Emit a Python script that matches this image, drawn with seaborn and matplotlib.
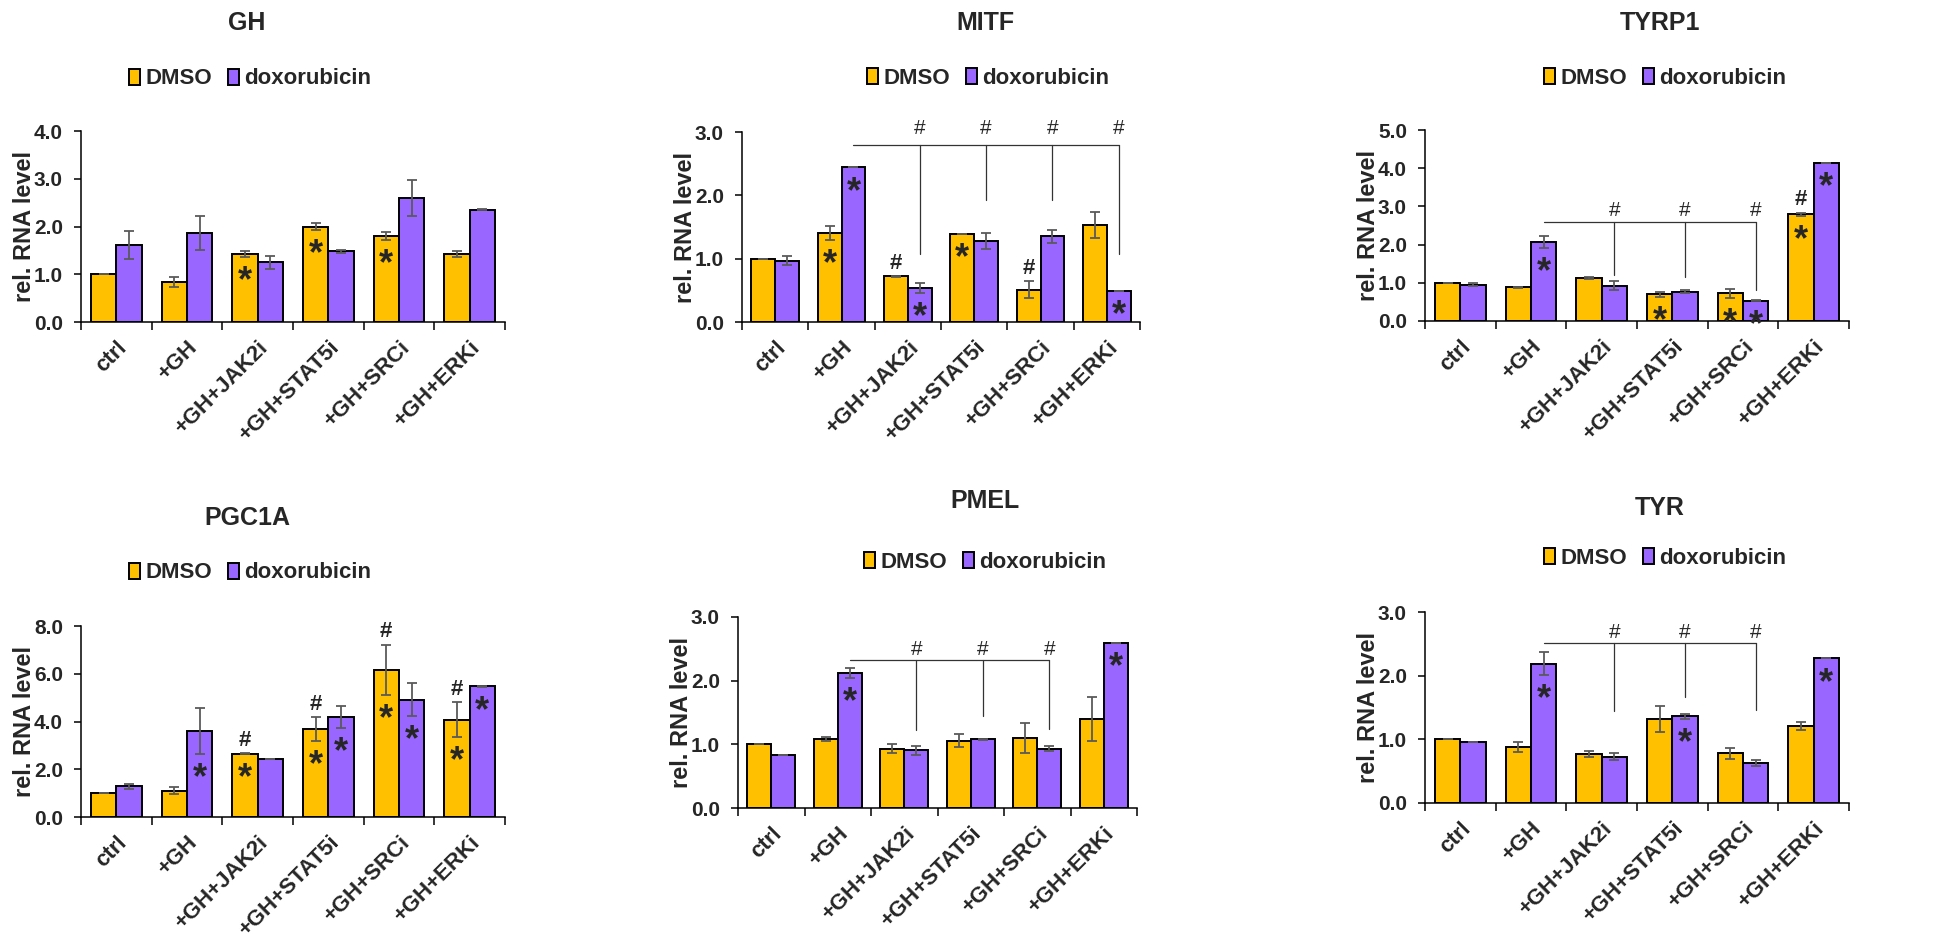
import numpy as np
import pandas as pd
import seaborn as sns
from matplotlib import pyplot as plt
from matplotlib.patches import Patch
from matplotlib.ticker import FormatStrFormatter

# Categorias e condições
tratamentos = ['ctrl', '+GH', '+GH+JAK2i', '+GH+STAT5i', '+GH+SRCi', '+GH+ERKi']
condicoes = ['DMSO', 'doxorubicin']
cores = {'DMSO': '#FFC000', 'doxorubicin': '#9966FF'}

# GH
gh_dmso = [1.00, 0.84, 1.43, 2.00, 1.80, 1.42]
gh_dmso_err = [0.00, 0.10, 0.06, 0.08, 0.08, 0.06]
gh_doxo = [1.61, 1.86, 1.25, 1.48, 2.60, 2.35]
gh_doxo_err = [0.30, 0.35, 0.14, 0.03, 0.37, 0.01]
gh_star_dmso = [0, 0, 1, 1, 1, 0]
gh_star_doxo = [0, 0, 0, 0, 0, 0]
gh_hash_dmso = [0, 0, 0, 0, 0, 0]

# MITF
mitf_dmso = [1.00, 1.41, 0.72, 1.39, 0.51, 1.53]
mitf_dmso_err = [0.00, 0.11, 0.01, 0.00, 0.13, 0.20]
mitf_doxo = [0.97, 2.44, 0.54, 1.28, 1.35, 0.49]
mitf_doxo_err = [0.07, 0.00, 0.08, 0.12, 0.10, 0.00]
mitf_star_dmso = [0, 1, 0, 1, 0, 0]
mitf_star_doxo = [0, 1, 1, 0, 0, 1]
mitf_hash_dmso = [0, 0, 1, 0, 1, 0]
mitf_chave_y = 2.80
mitf_chave_alvos = [2, 3, 4, 5]
mitf_chave_fim = [1.07, 1.93, 1.92, 1.07]
mitf_chave_hash = 3.08

# TYRP1
tyrp1_dmso = [1.00, 0.88, 1.13, 0.70, 0.72, 2.79]
tyrp1_dmso_err = [0.00, 0.02, 0.02, 0.06, 0.13, 0.05]
tyrp1_doxo = [0.95, 2.07, 0.92, 0.77, 0.53, 4.13]
tyrp1_doxo_err = [0.04, 0.16, 0.12, 0.05, 0.01, 0.00]
tyrp1_star_dmso = [0, 0, 0, 1, 1, 1]
tyrp1_star_doxo = [0, 1, 0, 0, 1, 1]
tyrp1_hash_dmso = [0, 0, 0, 0, 0, 1]
tyrp1_chave_y = 2.59
tyrp1_chave_alvos = [2, 3, 4]
tyrp1_chave_fim = [1.20, 1.16, 0.81]
tyrp1_chave_hash = 2.95

# PGC1A
pgc1a_dmso = [1.00, 1.10, 2.65, 3.68, 6.17, 4.08]
pgc1a_dmso_err = [0.00, 0.14, 0.02, 0.50, 1.05, 0.73]
pgc1a_doxo = [1.28, 3.60, 2.42, 4.18, 4.92, 5.48]
pgc1a_doxo_err = [0.12, 0.97, 0.01, 0.45, 0.68, 0.02]
pgc1a_star_dmso = [0, 0, 1, 1, 1, 1]
pgc1a_star_doxo = [0, 1, 0, 1, 1, 1]
pgc1a_hash_dmso = [0, 0, 1, 1, 1, 1]

# PMEL
pmel_dmso = [1.00, 1.09, 0.93, 1.06, 1.10, 1.40]
pmel_dmso_err = [0.00, 0.03, 0.07, 0.10, 0.23, 0.34]
pmel_doxo = [0.84, 2.12, 0.91, 1.08, 0.93, 2.59]
pmel_doxo_err = [0.00, 0.08, 0.07, 0.01, 0.04, 0.00]
pmel_star_dmso = [0, 0, 0, 0, 0, 0]
pmel_star_doxo = [0, 1, 0, 0, 0, 1]
pmel_hash_dmso = [0, 0, 0, 0, 0, 0]
pmel_chave_y = 2.32
pmel_chave_alvos = [2, 3, 4]
pmel_chave_fim = [1.23, 1.44, 1.24]
pmel_chave_hash = 2.51

# TYR
tyr_dmso = [1.00, 0.88, 0.77, 1.32, 0.78, 1.21]
tyr_dmso_err = [0.00, 0.08, 0.05, 0.20, 0.09, 0.07]
tyr_doxo = [0.96, 2.19, 0.73, 1.36, 0.63, 2.27]
tyr_doxo_err = [0.00, 0.18, 0.05, 0.04, 0.05, 0.00]
tyr_star_dmso = [0, 0, 0, 0, 0, 0]
tyr_star_doxo = [0, 1, 0, 1, 0, 1]
tyr_hash_dmso = [0, 0, 0, 0, 0, 0]
tyr_chave_y = 2.52
tyr_chave_alvos = [2, 3, 4]
tyr_chave_fim = [1.45, 1.66, 1.46]
tyr_chave_hash = 2.70

W, H = 1959, 946
fonte = ['Liberation Sans', 'DejaVu Sans']

sns.set_style('ticks')
plt.rcParams['font.family'] = fonte
plt.rcParams['axes.linewidth'] = 1.1

fig = plt.figure(figsize=(W / 100, H / 100), dpi=100)


def px(pt):
    # converte pontos para pixels (dpi 100)
    return pt * 100 / 72


def plot_gene(caixa, titulo, titulo_pos, legenda_pos, dmso, dmso_err, doxo, doxo_err,
              star_dmso, star_doxo, hash_dmso, ymax, ystep, chave=None):
    esq, topo, dir_, base = caixa
    ax = fig.add_axes([esq / W, 1 - base / H, (dir_ - esq) / W, (base - topo) / H])

    df = pd.DataFrame({
        'tratamento': tratamentos * 2,
        'condicao': ['DMSO'] * len(tratamentos) + ['doxorubicin'] * len(tratamentos),
        'valor': list(dmso) + list(doxo),
    })
    sns.barplot(data=df, x='tratamento', y='valor', hue='condicao', order=tratamentos,
                hue_order=condicoes, palette=cores, width=0.72, gap=0, saturation=1,
                edgecolor='black', linewidth=1.4, errorbar=None, legend=False, ax=ax)

    centros = []
    for cont, err, estrelas in zip(ax.containers, [dmso_err, doxo_err], [star_dmso, star_doxo]):
        xs = [b.get_x() + b.get_width() / 2 for b in cont]
        hs = [b.get_height() for b in cont]
        centros.append(xs)
        ax.errorbar(xs, hs, yerr=err, fmt='none', ecolor='#5a5a5a', elinewidth=1.3,
                    capsize=3.8, capthick=1.3, zorder=3)
        # asteriscos dentro das barras
        for x, h, e, s in zip(xs, hs, err, estrelas):
            if s:
                ax.annotate('*', (x, h - e), xytext=(0, -13 - 0.59 * px(26)),
                            textcoords='offset pixels', ha='center', va='baseline',
                            fontsize=26, fontweight='bold', zorder=4)

    # cerquilhas acima das barras DMSO
    for x, h, e, s in zip(centros[0], dmso, dmso_err, hash_dmso):
        if s:
            ax.annotate('#', (x, h + e), xytext=(0, 15 - 0.35 * px(16)),
                        textcoords='offset pixels', ha='center', va='baseline',
                        fontsize=16, fontweight='bold', annotation_clip=False)

    # chave de comparação
    if chave is not None:
        y_linha, alvos, fins, y_hash = chave
        x0 = centros[1][1]
        xf = centros[1][alvos[-1]]
        ax.plot([x0, xf], [y_linha, y_linha], color='#333333', lw=0.9, clip_on=False)
        for a, f in zip(alvos, fins):
            xa = centros[1][a]
            ax.plot([xa, xa], [y_linha, f], color='#333333', lw=0.9, clip_on=False)
            ax.annotate('#', (xa, y_hash), xytext=(0, -0.35 * px(15)),
                        textcoords='offset pixels', ha='center', va='baseline',
                        fontsize=15, annotation_clip=False)

    # eixos
    ax.set_ylim(0, ymax)
    ax.set_yticks(np.arange(0, ymax + 0.001, ystep))
    ax.yaxis.set_major_formatter(FormatStrFormatter('%.1f'))
    ax.set_xlim(-0.5, len(tratamentos) - 0.5)
    ax.set_xticks(range(len(tratamentos)))
    ax.set_xticklabels(tratamentos, rotation=45, ha='right', rotation_mode='anchor',
                       fontsize=16, fontweight='bold')
    ax.set_xticks(np.arange(-0.5, len(tratamentos), 1), minor=True)
    ax.tick_params(axis='x', which='major', length=0, pad=11)
    ax.tick_params(axis='x', which='minor', length=6, width=1.1, direction='out', color='black')
    ax.tick_params(axis='y', length=5, width=1.1, direction='out', pad=8, color='black')
    for lab in ax.get_yticklabels():
        lab.set_fontsize(15)
        lab.set_fontweight('bold')
    for lado in ['top', 'right']:
        ax.spines[lado].set_visible(False)
    for lado in ['left', 'bottom']:
        ax.spines[lado].set_color('black')

    ax.set_xlabel('')
    ax.set_ylabel('rel. RNA level', fontsize=17, fontweight='bold')
    ax.yaxis.set_label_coords(-45 / (dir_ - esq), 0.5)

    # título e legenda
    fig.text(titulo_pos[0] / W, 1 - titulo_pos[1] / H, titulo, ha='center', va='baseline',
             fontsize=18, fontweight='bold')
    alcas = [Patch(facecolor=cores[c], edgecolor='black', linewidth=1.4) for c in condicoes]
    ax.legend(alcas, condicoes, loc='center',
              bbox_to_anchor=(legenda_pos[0] / W, 1 - legenda_pos[1] / H),
              bbox_transform=fig.transFigure, ncol=2, frameon=False,
              prop={'weight': 'bold', 'size': 16},
              handlelength=0.5, handleheight=0.75, handletextpad=0.25, columnspacing=0.7)
    return ax


plot_gene((81, 131, 505, 322), 'GH', (247, 30), (250, 79),
          gh_dmso, gh_dmso_err, gh_doxo, gh_doxo_err,
          gh_star_dmso, gh_star_doxo, gh_hash_dmso, 4.0, 1.0)
plot_gene((742, 132, 1140, 322), 'MITF', (985, 30), (988, 78),
          mitf_dmso, mitf_dmso_err, mitf_doxo, mitf_doxo_err,
          mitf_star_dmso, mitf_star_doxo, mitf_hash_dmso, 3.0, 1.0,
          (mitf_chave_y, mitf_chave_alvos, mitf_chave_fim, mitf_chave_hash))
plot_gene((1425, 130, 1849, 321), 'TYRP1', (1660, 30), (1665, 78),
          tyrp1_dmso, tyrp1_dmso_err, tyrp1_doxo, tyrp1_doxo_err,
          tyrp1_star_dmso, tyrp1_star_doxo, tyrp1_hash_dmso, 5.0, 1.0,
          (tyrp1_chave_y, tyrp1_chave_alvos, tyrp1_chave_fim, tyrp1_chave_hash))
plot_gene((81, 626, 505, 817), 'PGC1A', (247, 525), (250, 573),
          pgc1a_dmso, pgc1a_dmso_err, pgc1a_doxo, pgc1a_doxo_err,
          pgc1a_star_dmso, pgc1a_star_doxo, pgc1a_hash_dmso, 8.0, 2.0)
plot_gene((738, 617, 1137, 808), 'PMEL', (985, 508), (985, 562),
          pmel_dmso, pmel_dmso_err, pmel_doxo, pmel_doxo_err,
          pmel_star_dmso, pmel_star_doxo, pmel_hash_dmso, 3.0, 1.0,
          (pmel_chave_y, pmel_chave_alvos, pmel_chave_fim, pmel_chave_hash))
plot_gene((1425, 612, 1849, 803), 'TYR', (1660, 515), (1665, 558),
          tyr_dmso, tyr_dmso_err, tyr_doxo, tyr_doxo_err,
          tyr_star_dmso, tyr_star_doxo, tyr_hash_dmso, 3.0, 1.0,
          (tyr_chave_y, tyr_chave_alvos, tyr_chave_fim, tyr_chave_hash))

fig.savefig('out.png', dpi=100, facecolor='white')
